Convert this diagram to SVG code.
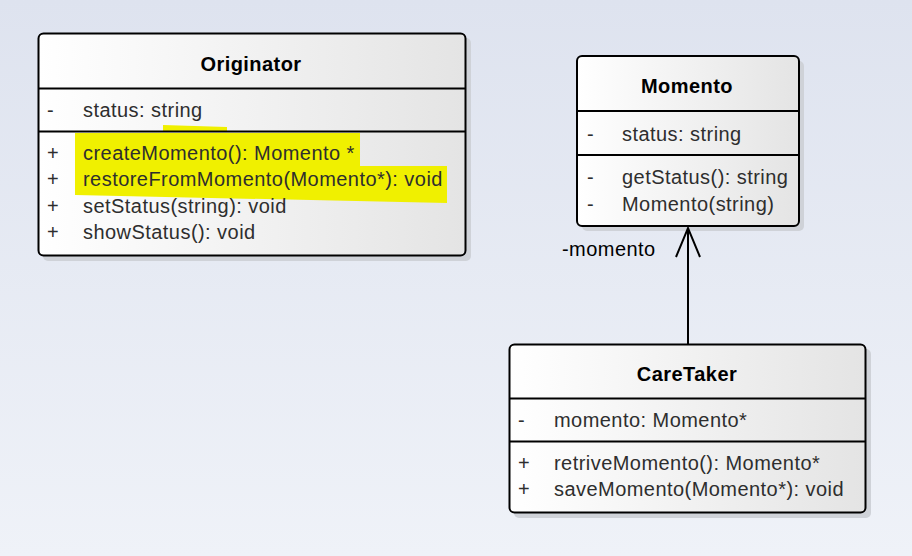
<svg xmlns="http://www.w3.org/2000/svg" width="912" height="556" viewBox="0 0 912 556">
<defs>
<linearGradient id="bg" x1="0" y1="0" x2="0" y2="1">
<stop offset="0" stop-color="#dee3ef"/>
<stop offset="1" stop-color="#eff2f8"/>
</linearGradient>
<linearGradient id="boxfill" x1="0" y1="0" x2="1" y2="0">
<stop offset="0" stop-color="#ffffff"/>
<stop offset="1" stop-color="#e4e4e4"/>
</linearGradient>
<style>
.shadow{fill:#cfd2d8;}
.box{fill:url(#boxfill);stroke:#000;stroke-width:2;}
.sep{stroke:#000;stroke-width:2;}
.title{font-family:"Liberation Sans",Arial,sans-serif;font-size:20px;font-weight:bold;fill:#000;text-anchor:middle;letter-spacing:0.45px;}
.t{font-family:"Liberation Sans",Arial,sans-serif;font-size:20px;fill:#2e2e2e;letter-spacing:0.45px;}
.lbl{font-family:"Liberation Sans",Arial,sans-serif;font-size:20px;fill:#000;letter-spacing:0.45px;}
.hl{fill:#f0f000;}
.conn{stroke:#000;stroke-width:2;fill:none;}
</style>
</defs>
<rect x="0" y="0" width="912" height="556" fill="url(#bg)"/>

<g id="Originator">
<rect class="shadow" x="43" y="38" width="428" height="223" rx="5"/>
<rect class="box" x="38.5" y="33.5" width="427" height="222" rx="5"/>
<polygon class="hl" points="163,125 227,127 227,131 163,131"/>
<line class="sep" x1="38.5" y1="88.5" x2="465.5" y2="88.5"/>
<line class="sep" x1="38.5" y1="131.5" x2="465.5" y2="131.5"/>
<polygon class="hl" points="75,133 360,133 360,166 447,166 447,203 75,195"/>
<text class="title" x="251" y="71">Originator</text>
<text class="t" x="47" y="117">-</text><text class="t" x="83" y="117">status: string</text>
<text class="t" x="47" y="159.5">+</text><text class="t" x="83" y="159.5">createMomento(): Momento *</text>
<text class="t" x="47" y="186">+</text><text class="t" x="83" y="186">restoreFromMomento(Momento*): void</text>
<text class="t" x="47" y="212.5">+</text><text class="t" x="83" y="212.5">setStatus(string): void</text>
<text class="t" x="47" y="239">+</text><text class="t" x="83" y="239">showStatus(): void</text>
</g>

<g id="Momento">
<rect class="shadow" x="582" y="61" width="222" height="170" rx="5"/>
<rect class="box" x="577" y="56" width="222" height="170" rx="5"/>
<line class="sep" x1="577" y1="111" x2="799" y2="111"/>
<line class="sep" x1="577" y1="155" x2="799" y2="155"/>
<text class="title" x="687" y="93">Momento</text>
<text class="t" x="587" y="140.5">-</text><text class="t" x="622" y="140.5">status: string</text>
<text class="t" x="587" y="183.5">-</text><text class="t" x="622" y="183.5">getStatus(): string</text>
<text class="t" x="587" y="210.5">-</text><text class="t" x="622" y="210.5">Momento(string)</text>
</g>

<g id="CareTaker">
<rect class="shadow" x="514" y="349" width="357" height="169" rx="5"/>
<rect class="box" x="509.5" y="344.5" width="356" height="168" rx="5"/>
<line class="sep" x1="509.5" y1="398.5" x2="865.5" y2="398.5"/>
<line class="sep" x1="509.5" y1="441.5" x2="865.5" y2="441.5"/>
<text class="title" x="687" y="381">CareTaker</text>
<text class="t" x="518" y="426.5">-</text><text class="t" x="554" y="426.5">momento: Momento*</text>
<text class="t" x="518" y="470">+</text><text class="t" x="554" y="470">retriveMomento(): Momento*</text>
<text class="t" x="518" y="496">+</text><text class="t" x="554" y="496">saveMomento(Momento*): void</text>
</g>

<g id="connectors">
<line class="conn" x1="688" y1="228" x2="688" y2="344"/>
<polyline class="conn" points="676,257 688,228 700,257"/>
<text class="lbl" x="562" y="256">-momento</text>
</g>
</svg>
